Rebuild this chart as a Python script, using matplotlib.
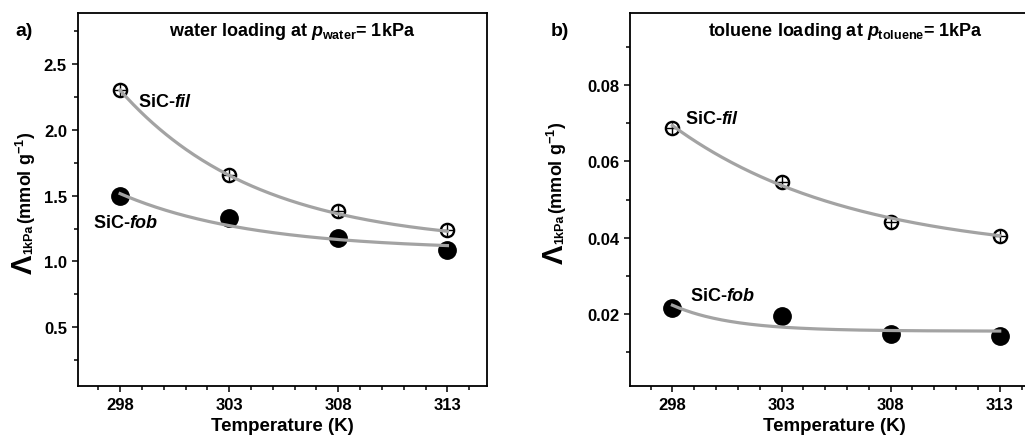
import numpy as np
import matplotlib
matplotlib.use("Agg")
import matplotlib.pyplot as plt
from matplotlib.ticker import MultipleLocator, FormatStrFormatter

# temperaturas (K)
temp = [298, 303, 308, 313]

# carga de agua a 1 kPa (mmol/g)
water_fil = [2.30, 1.66, 1.38, 1.24]
water_fob = [1.50, 1.33, 1.175, 1.09]

# carga de tolueno a 1 kPa (mmol/g)
tol_fil = [0.0687, 0.0546, 0.0442, 0.0404]
tol_fob = [0.0216, 0.0195, 0.0148, 0.0143]

# parametros do ajuste exponencial: a + b*exp(-(T-298)/tau)
fit_water_fil = (1.12, 1.18, 6.3)
fit_water_fob = (1.085, 0.43, 6.0)
fit_tol_fil = (0.0350, 0.0344, 8.2)
fit_tol_fob = (0.0155, 0.0068, 2.7)

plt.rcParams['font.family'] = 'Liberation Sans'
plt.rcParams['font.weight'] = 'bold'
plt.rcParams['mathtext.fontset'] = 'custom'
plt.rcParams['mathtext.rm'] = 'Liberation Sans:bold'
plt.rcParams['mathtext.bf'] = 'Liberation Sans:bold'
plt.rcParams['mathtext.it'] = 'Liberation Sans:italic:bold'

W, H = 1025, 439


def px(x, y):
    return x / W, 1 - y / H


def fitcurve(p):
    a, b, tau = p
    t = np.linspace(temp[0], temp[-1], 200)
    return t, a + b * np.exp(-(t - temp[0]) / tau)


def panel(ax, fil, fob, pfil, pfob, ylim, major, minor):
    t, y = fitcurve(pfil)
    ax.plot(t, y, color='#a3a3a3', lw=2.3, zorder=3)
    t, y = fitcurve(pfob)
    ax.plot(t, y, color='#a3a3a3', lw=2.3, zorder=3)
    ax.plot(temp, fob, 'o', ms=12.5, color='black', zorder=2)
    ax.plot(temp, fil, 'o', ms=9.5, mfc='white', mec='black', mew=1.7, zorder=2)
    ax.plot(temp, fil, '+', ms=9.5, mec='black', mew=1.0, zorder=2)
    ax.set_xlim(296.07, 314.8)
    ax.set_ylim(*ylim)
    ax.xaxis.set_minor_locator(MultipleLocator(1))
    ax.set_xticks(temp)
    ax.yaxis.set_major_locator(MultipleLocator(major))
    ax.yaxis.set_minor_locator(MultipleLocator(minor))
    ax.tick_params(which='major', direction='out', length=4, width=1.1, labelsize=12, pad=4)
    ax.tick_params(which='minor', direction='out', length=3, width=1.1)
    for s in ax.spines.values():
        s.set_linewidth(1.3)
    ax.set_xlabel('Temperature (K)', fontsize=13.5, fontweight='bold', labelpad=4)


def ylabel(fig, x, y):
    # Lambda grande + subscrito + unidades, tudo girado
    fig.text(*px(x, y), '\u039b', rotation=90, rotation_mode='anchor',
             ha='center', va='baseline', fontsize=21, fontweight='bold')
    fig.text(*px(x, y - 10), '1kPa', rotation=90, rotation_mode='anchor',
             ha='left', va='baseline', fontsize=9, fontweight='bold')
    fig.text(*px(x, y - 40), r'(mmol g$^{-1}$)', rotation=90, rotation_mode='anchor',
             ha='left', va='baseline', fontsize=13, fontweight='bold')


fig = plt.figure(figsize=(W / 100, H / 100), dpi=100)
axa = fig.add_axes([78 / W, 52.3 / H, 408.7 / W, 372.7 / H])
axb = fig.add_axes([630.3 / W, 52.3 / H, 408.7 / W, 372.7 / H])

panel(axa, water_fil, water_fob, fit_water_fil, fit_water_fob, (0.056, 2.887), 0.5, 0.25)
panel(axb, tol_fil, tol_fob, fit_tol_fil, fit_tol_fob, (0.0012, 0.0989), 0.02, 0.01)
axb.yaxis.set_major_formatter(FormatStrFormatter('%.2f'))

fig.text(*px(15, 36), 'a)', fontsize=14, fontweight='bold')
fig.text(*px(551, 36), 'b)', fontsize=14, fontweight='bold')
fig.text(*px(292, 36), r'water loading at $\mathit{p}_{\mathrm{water}}$= 1kPa',
         ha='center', fontsize=13, fontweight='bold')
fig.text(*px(845, 36), r'toluene loading at $\mathit{p}_{\mathrm{toluene}}$= 1kPa',
         ha='center', fontsize=13, fontweight='bold')

fig.text(*px(138, 107), r'SiC-$\mathit{fil}$', fontsize=13, fontweight='bold')
fig.text(*px(93, 228), r'SiC-$\mathit{fob}$', fontsize=13, fontweight='bold')
fig.text(*px(685, 124), r'SiC-$\mathit{fil}$', fontsize=13, fontweight='bold')
fig.text(*px(690, 301), r'SiC-$\mathit{fob}$', fontsize=13, fontweight='bold')

ylabel(fig, 32, 264)
ylabel(fig, 563, 254)

fig.savefig('out.png', dpi=100)
